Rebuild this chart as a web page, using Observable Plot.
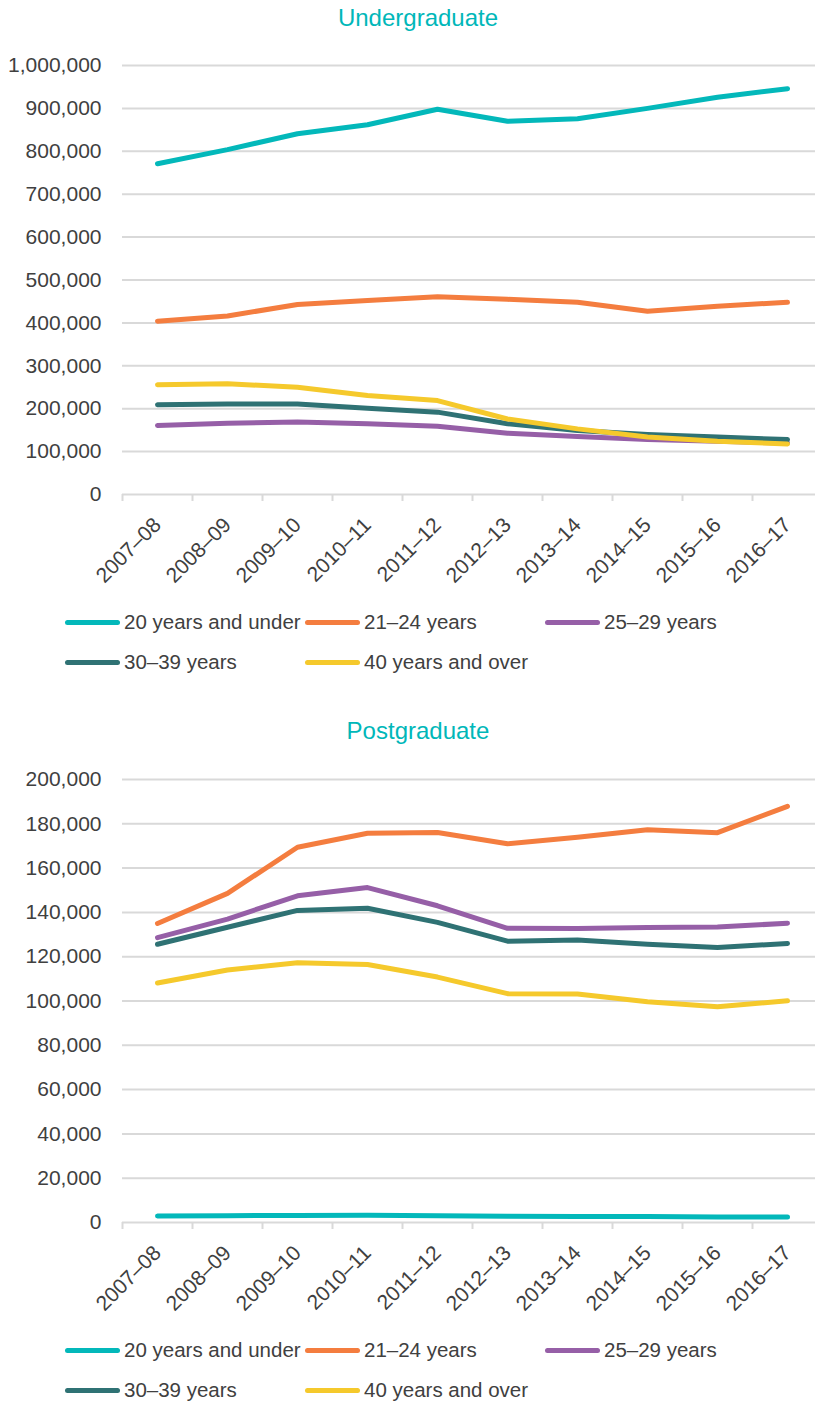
<!DOCTYPE html>
<html>
<head>
<meta charset="utf-8">
<script src="https://cdn.jsdelivr.net/npm/d3@7"></script>
<script src="https://cdn.jsdelivr.net/npm/@observablehq/plot@0.6"></script>
<style>
  body { margin: 0; background: #fff; font-family: "Liberation Sans", Arial, sans-serif; color: #404040; }
  #root { position: relative; width: 815px; height: 1405px; overflow: hidden; }
  .title { position: absolute; left: 21px; width: 794px; text-align: center; font-size: 24px; color: #00B7B9; line-height: 36px; }
  .chart { position: absolute; left: 0; }
  .legend { position: absolute; left: 65px; width: 750px; display: grid; grid-template-columns: 240px 240px 240px; }
  .item { display: flex; align-items: center; height: 40px; font-size: 20.5px; white-space: nowrap; color: #404040; }
  .sw { width: 55px; height: 5px; border-radius: 3px; margin-right: 4px; flex: none; }
</style>
</head>
<body>
<div id="root">
  <div class="title" style="top:0px">Undergraduate</div>
  <div class="chart" id="c1" style="top:40px"></div>
  <div class="legend" id="l1" style="top:602px"></div>
  <div class="title" style="top:713px">Postgraduate</div>
  <div class="chart" id="c2" style="top:752px"></div>
  <div class="legend" id="l2" style="top:1330px"></div>
</div>
<script>
const years = ["2007–08","2008–09","2009–10","2010–11","2011–12","2012–13","2013–14","2014–15","2015–16","2016–17"];
const seriesNames = ["20 years and under","21–24 years","25–29 years","30–39 years","40 years and over"];
const seriesColors = ["#03B8BA","#F47D3F","#965FA7","#2F7274","#F5C92C"];

// Undergraduate
const ugUnder20 = [771000, 804000, 841000, 862000, 898000, 870000, 876000, 900000, 926000, 946000];
const ug21to24  = [404000, 416000, 443000, 452000, 461000, 455000, 448000, 427000, 439000, 448000];
const ug25to29  = [161000, 166000, 169000, 165000, 159000, 143000, 135000, 128000, 124000, 120000];
const ug30to39  = [209000, 211000, 211000, 201000, 192000, 165000, 149000, 140000, 134000, 128000];
const ug40plus  = [256000, 258000, 250000, 231000, 219000, 176000, 153000, 134000, 124000, 118000];
const ugTicks = [0, 100000, 200000, 300000, 400000, 500000, 600000, 700000, 800000, 900000, 1000000];

// Postgraduate
const pgUnder20 = [2900, 3100, 3200, 3300, 3000, 2800, 2700, 2700, 2500, 2500];
const pg21to24  = [135000, 148600, 169400, 175700, 176100, 171000, 173900, 177300, 176000, 187900];
const pg25to29  = [128600, 137000, 147500, 151200, 143000, 132800, 132700, 133200, 133400, 135100];
const pg30to39  = [125600, 133300, 140900, 141900, 135500, 127000, 127500, 125600, 124100, 126000];
const pg40plus  = [108100, 114000, 117300, 116500, 110800, 103300, 103200, 99700, 97400, 100100];
const pgTicks = [0, 20000, 40000, 60000, 80000, 100000, 120000, 140000, 160000, 180000, 200000];

function toRows(arrays) {
  const rows = [];
  arrays.forEach((arr, s) => arr.forEach((v, i) => rows.push({year: years[i], series: seriesNames[s], value: v})));
  return rows;
}

function makeChart(rows, ticks, maxY, height, marginTop, marginBottom) {
  return Plot.plot({
    width: 815,
    height,
    marginLeft: 122,
    marginRight: 0,
    marginTop,
    marginBottom,
    style: {fontFamily: '"Liberation Sans", Arial, sans-serif', fontSize: "21px", color: "#404040", background: "transparent"},
    x: {type: "point", domain: years, range: [122, 822], padding: 0.5, label: null},
    y: {domain: [0, maxY], label: null},
    color: {domain: seriesNames, range: seriesColors},
    marks: [
      Plot.ruleY(ticks, {stroke: "#D9D9D9", strokeWidth: 2}),
      Plot.ruleX(years, {x: d => d, y1: 0, y2: 0, dx: -35, insetBottom: -7, stroke: "#D9D9D9", strokeWidth: 2}),
      Plot.axisY({ticks, tickFormat: d3.format(","), tickSize: 0, tickPadding: 21, fontSize: 21, label: null}),
      Plot.axisX({tickSize: 0, tickPadding: 27, tickRotate: -45, fontSize: 21, label: null}),
      Plot.line(rows, {x: "year", y: "value", z: "series", stroke: "series", strokeWidth: 5, strokeLinecap: "round", strokeLinejoin: "round"})
    ]
  });
}

function makeLegend(el) {
  seriesNames.forEach((name, i) => {
    const item = document.createElement("div");
    item.className = "item";
    const sw = document.createElement("span");
    sw.className = "sw";
    sw.style.background = seriesColors[i];
    const tx = document.createElement("span");
    tx.textContent = name;
    item.appendChild(sw);
    item.appendChild(tx);
    el.appendChild(item);
  });
}

document.getElementById("c1").appendChild(
  makeChart(toRows([ugUnder20, ug21to24, ug25to29, ug30to39, ug40plus]), ugTicks, 1000000, 560, 25, 106)
);
document.getElementById("c2").appendChild(
  makeChart(toRows([pgUnder20, pg21to24, pg25to29, pg30to39, pg40plus]), pgTicks, 200000, 575, 27, 105)
);
makeLegend(document.getElementById("l1"));
makeLegend(document.getElementById("l2"));
</script>
</body>
</html>
